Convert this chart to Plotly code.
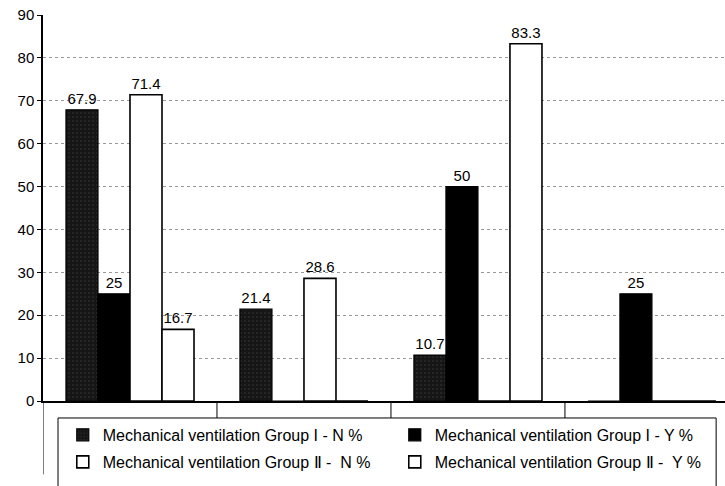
import plotly.graph_objects as go

categories = ["A", "B", "C", "D"]
series_names = [
    "Mechanical ventilation Group I - N %",
    "Mechanical ventilation Group I - Y %",
    "Mechanical ventilation Group Ⅱ -  N %",
    "Mechanical ventilation Group Ⅱ -  Y %",
]
g1_n = [67.9, 21.4, 10.7, 0]
g1_y = [25, 0, 50, 25]
g2_n = [71.4, 28.6, 0, 0]
g2_y = [16.7, 0, 83.3, 0]
y_ticks = [0, 10, 20, 30, 40, 50, 60, 70, 80, 90]

FONT = "Liberation Sans, Arial, sans-serif"

def labels(vals):
    return [("%g" % v) if v else "" for v in vals]

fig = go.Figure()
styles = [
    dict(color="#141414", line=dict(color="#000", width=1.2),
         pattern=dict(shape=".", bgcolor="#161616", fgcolor="#3c3c3c", size=4, solidity=0.2)),
    dict(color="#000000", line=dict(color="#000", width=1.2)),
    dict(color="#ffffff", line=dict(color="#000", width=1.6)),
    dict(color="#ffffff", line=dict(color="#000", width=1.6)),
]
legend_ids = ["legend", "legend", "legend2", "legend2"]
for name, vals, st, lg in zip(series_names, [g1_n, g1_y, g2_n, g2_y], styles, legend_ids):
    fig.add_trace(go.Bar(
        x=categories, y=vals, name=name, marker=st, legend=lg,
        text=labels(vals), textposition="outside",
        textfont=dict(family=FONT, size=15, color="#000"),
        cliponaxis=False,
    ))

# decorative frame lines below the axis (category dividers, legend box, axis extension)
line = dict(color="#000", width=1)
for xb in [0.5, 1.5, 2.5]:
    fig.add_shape(type="line", xref="x", yref="paper", x0=xb, x1=xb, y0=0, y1=-0.044, line=line)
fig.add_shape(type="line", xref="x", yref="paper", x0=-0.5, x1=-0.5, y0=0, y1=-0.19, line=line)
fig.add_shape(type="rect", xref="paper", yref="paper", x0=0.022, x1=0.987, y0=-0.044, y1=-0.3,
              line=dict(color="#000", width=1), fillcolor="rgba(0,0,0,0)")

leg = dict(orientation="h", x=0.029, xanchor="left", yanchor="middle",
           entrywidth=287, entrywidthmode="pixels",
           font=dict(family=FONT, size=16, color="#000"),
           bgcolor="rgba(0,0,0,0)", itemwidth=30)
fig.update_layout(
    width=725, height=486,
    margin=dict(l=43, r=0, t=15, b=85, autoexpand=False),
    paper_bgcolor="white", plot_bgcolor="white",
    barmode="group", bargap=0.264, bargroupgap=0,
    font=dict(family=FONT, size=14, color="#000"),
    showlegend=True,
    legend=dict(leg, y=-0.088),
    legend2=dict(leg, y=-0.158),
    xaxis=dict(range=[-0.5, 3.42], showticklabels=False, showgrid=False,
               showline=True, linecolor="#000", linewidth=1.5, ticks="", zeroline=False),
    yaxis=dict(range=[0, 90], tickvals=y_ticks, showgrid=True, gridcolor="#999",
               griddash="dot", gridwidth=1, showline=True, linecolor="#000", linewidth=1.5,
               ticks="outside", ticklen=4, tickcolor="#000", zeroline=False,
               tickfont=dict(family=FONT, size=15, color="#000")),
)
fig.write_html("out.html")
